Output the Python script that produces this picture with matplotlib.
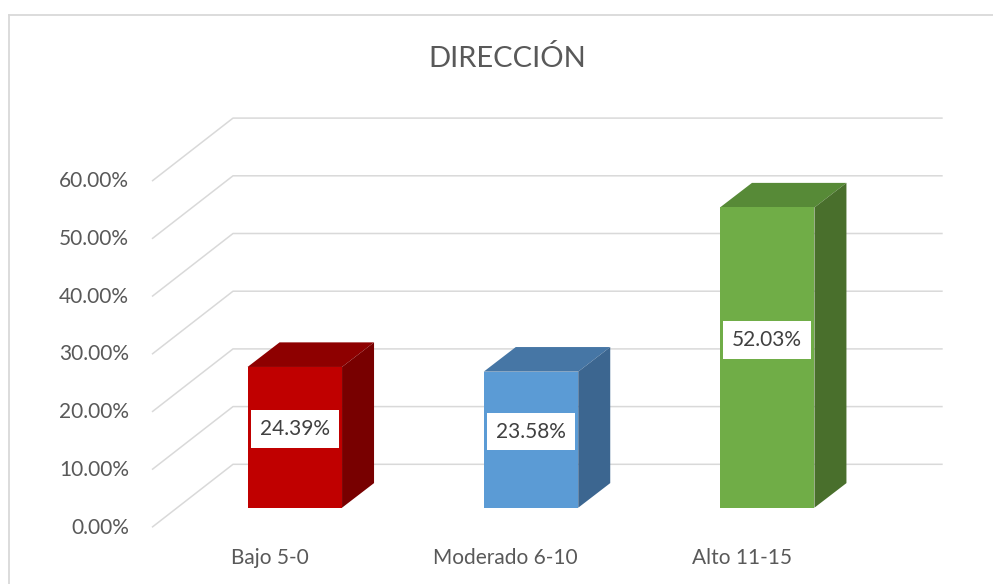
import matplotlib
matplotlib.use("Agg")
import matplotlib.pyplot as plt
from matplotlib.patches import Polygon
from matplotlib.lines import Line2D

# ---- data ----
categories = ["Bajo 5-0", "Moderado 6-10", "Alto 11-15"]
values = [24.39, 23.58, 52.03]
value_labels = ["24.39%", "23.58%", "52.03%"]
yticks = [0, 10, 20, 30, 40, 50, 60]
ytick_labels = ["0.00%", "10.00%", "20.00%", "30.00%", "40.00%", "50.00%", "60.00%"]
title = "DIRECCIÓN"

front_colors = ["#C00000", "#5B9BD5", "#70AD47"]
top_colors = ["#8E0000", "#4676A5", "#578A37"]
side_colors = ["#780000", "#3C6690", "#496F2C"]

FONT = ["Lato", "DejaVu Sans"]
W, H, DPI = 993, 584, 100

# pixel mapping of the bar plane (category index / percent -> pixels)
X0, SX = 294.8, 236.2      # px of category 0, px per category
Y0, SY = 507.7, 5.77       # px of 0 %, px per 1 %

fig = plt.figure(figsize=(W / DPI, H / DPI), dpi=DPI)
ax = fig.add_axes([0, 0, 1, 1])
ax.set_xlim((0 - X0) / SX, (W - X0) / SX)
ax.set_ylim((Y0 - H) / SY, (Y0 - 0) / SY)
ax.axis("off")

def dx(px):
    return px / SX

def dy(px):
    return px / SY

# depth geometry (in data units)
front_dx, front_dy = dx(-25.2), -dy(19.6)   # front edge of floor/wall vs bar plane
back_dx, back_dy = dx(55.8), dy(43.4)       # back wall vs bar plane
bar_dx, bar_dy = dx(32), dy(24.6)           # bar depth
wall_x1 = (942.7 - X0) / SX
bar_w = 0.40

grid_c = "#D9D9D9"
for t in yticks:
    xs = [front_dx - 0.5, back_dx - 0.5, wall_x1]
    xs = [(152 - X0) / SX, (233 - X0) / SX, wall_x1]
    ys = [t + front_dy, t + back_dy, t + back_dy]
    ax.plot(xs, ys, color=grid_c, lw=1.1, zorder=1, solid_capstyle="butt")

for t, lab in zip(yticks, ytick_labels):
    ax.text((129 - X0) / SX, t + front_dy - dy(6.2), lab, ha="right", va="baseline",
            fontsize=15, color="#595959", family=FONT)

xpos = list(range(len(categories)))
ax.bar(xpos, values, width=bar_w, color=front_colors, zorder=3, linewidth=0)
for i, v in enumerate(values):
    l, r = i - bar_w / 2, i + bar_w / 2
    top = Polygon([(l, v), (r, v), (r + bar_dx, v + bar_dy), (l + bar_dx, v + bar_dy)],
                  closed=True, fc=top_colors[i], ec="none", zorder=2)
    side = Polygon([(r, 0), (r + bar_dx, bar_dy), (r + bar_dx, v + bar_dy), (r, v)],
                   closed=True, fc=side_colors[i], ec="none", zorder=2)
    ax.add_patch(top)
    ax.add_patch(side)
    ax.text(i, v * 0.56, value_labels[i], ha="center", va="center", fontsize=15,
            color="#404040", family=FONT, zorder=5,
            bbox=dict(boxstyle="square,pad=0.43", fc="white", ec="none"))
    ax.text(i + front_dx, -dy(56.3), categories[i], ha="center", va="baseline",
            fontsize=15, color="#595959", family=FONT)

fig.text(507 / W, 1 - 67.3 / H, title, ha="center", va="baseline", fontsize=21,
         color="#595959", family=FONT)

# chart-area border (left and top visible)
bx, by = 8.5 / W, 1 - 14.5 / H
fig.add_artist(Line2D([bx, bx], [0, by], transform=fig.transFigure, color=grid_c, lw=1.3))
fig.add_artist(Line2D([bx, 1], [by, by], transform=fig.transFigure, color=grid_c, lw=1.3))

fig.savefig("out.png", dpi=DPI, facecolor="white")
